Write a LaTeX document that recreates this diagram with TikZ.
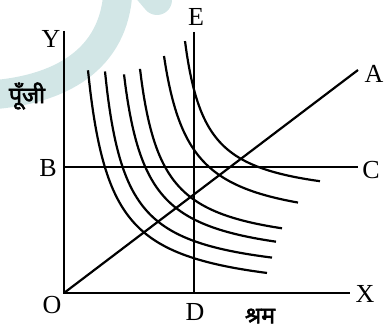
\documentclass[tikz,border=0pt]{standalone}
\usepackage{fontspec}
\setmainfont{Liberation Serif}
\newfontfamily\hindifont[Script=Devanagari, FakeBold=2.5]{Noto Sans}
\definecolor{wmark}{RGB}{210,230,230}

\begin{document}
\begin{tikzpicture}[x=1pt, y=1pt,
  every node/.style={font=\fontsize{26}{30}\selectfont, inner sep=0pt},
  hindi/.style={font=\hindifont\fontsize{23}{26}\selectfont},
  axis/.style={line width=2.6pt},
  guide/.style={line width=2.2pt},
  isoquant/.style={line width=2.2pt}]
  \useasboundingbox (-64,-36) rectangle (320,293);
  % faint watermark
  \draw[wmark, line width=29pt] (54,303) .. controls (51,233) and (-4,203) .. (-74,198);
  \draw[wmark, line width=30pt, line cap=round] (76,313) -- (93,293);
  % axes
  \coordinate (O) at (0,0);
  \coordinate (ytop) at (0,262);
  \coordinate (xend) at (286,0);
  \draw[axis] (ytop) |- (xend);
  % lines through the diagram
  \coordinate (ptE) at (130,261);
  \coordinate (ptD) at (130,0);
  \coordinate (ptB) at (0,126);
  \coordinate (ptC) at (294,126);
  \coordinate (ptA) at (294,223);
  \draw[guide] (ptE) -- (ptD);
  \draw[guide] (ptB) -- (ptC);
  \draw[guide] (O) -- (ptA);
  % isoquants
  \foreach \a/\b/\k/\s/\e in {1/-6/5260/24/203, 20/12/4400/41/208,
      37/26/4430/60/212, 54/40/4050/76/218, 74/62/4550/100/234,
      100/90/3400/121/256}
    \draw[isoquant] plot[domain=\s:\e, samples=80, smooth] (\x, {\b+\k/(\x-\a)});
  % labels
  \node (labY) at (-13,254) {Y};
  \node (labE) at (132,276) {E};
  \node (labA) at (310,219) {A};
  \node (labC) at (307,123) {C};
  \node (labB) at (-16,125) {B};
  \node (labO) at (-12,-12) {O};
  \node (labD) at (131,-19) {D};
  \node (labX) at (301,-1) {X};
  \node[hindi] (capital) at (-37,197) {पूँजी};
  \node[hindi] (labour) at (196,-23) {श्रम};
\end{tikzpicture}
\end{document}
